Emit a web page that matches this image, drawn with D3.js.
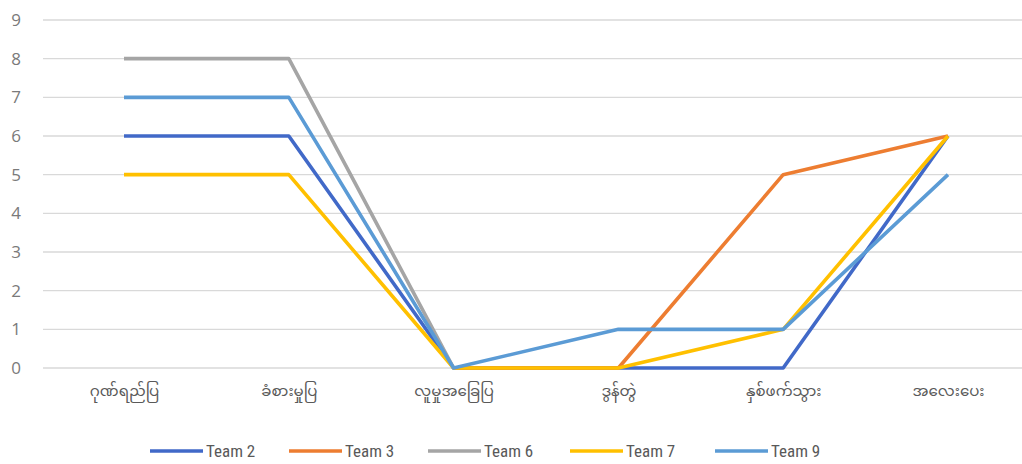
<!DOCTYPE html>
<html>
<head>
<meta charset="utf-8">
<script src="https://cdn.jsdelivr.net/npm/d3@7"></script>
<style>
  html, body { margin: 0; padding: 0; background: #fff; }
  svg { display: block; }
</style>
</head>
<body>
<svg id="chart" width="1022" height="464"></svg>
<script>
// Categories along the x axis
const categories = ["ဂုဏ်ရည်ပြ", "ခံစားမှုပြ", "လူမှုအခြေပြ", "ဒွန်တွဲ", "နှစ်ဖက်သွား", "အလေးပေး"];

// Scores per team (null = no value)
const team2 = [6, 6, 0, 0, 0, 6];
const team3 = [null, null, 0, 0, 5, 6];
const team6 = [8, 8, 0, null, null, null];
const team7 = [5, 5, 0, 0, 1, 6];
const team9 = [7, 7, 0, 1, 1, 5];

const seriesNames = ["Team 2", "Team 3", "Team 6", "Team 7", "Team 9"];
const seriesColors = ["#4169c8", "#ed7d31", "#a5a5a5", "#ffc000", "#5b9bd5"];
const yTicks = [0, 1, 2, 3, 4, 5, 6, 7, 8, 9];

const series = [team2, team3, team6, team7, team9].map((values, i) => ({
  name: seriesNames[i], color: seriesColors[i], values
}));

const svg = d3.select("#chart");

const x = d3.scalePoint().domain(categories).range([124, 948]);
const y = d3.scaleLinear().domain([0, 9]).range([368, 20]);

// Horizontal gridlines
svg.append("g")
  .selectAll("line")
  .data(yTicks)
  .join("line")
  .attr("x1", 43).attr("x2", 1022)
  .attr("y1", d => y(d)).attr("y2", d => y(d))
  .attr("stroke", "#d9d9d9")
  .attr("stroke-width", 1.4);

// Y axis labels
const yAxis = d3.axisLeft(y).tickValues(yTicks).tickSize(0).tickPadding(0);
const yg = svg.append("g").attr("transform", "translate(21,0)").call(yAxis);
yg.select(".domain").remove();
yg.selectAll("text")
  .attr("font-family", "'Open Sans', 'DejaVu Sans', sans-serif")
  .attr("font-size", 17)
  .attr("fill", "#7a7a7a");

// X axis category labels
const xAxis = d3.axisBottom(x).tickSize(0).tickPadding(0);
const xg = svg.append("g").attr("transform", "translate(0,385)").call(xAxis);
xg.select(".domain").remove();
xg.selectAll("text")
  .attr("font-family", "'Noto Sans Myanmar', 'Padauk', 'Myanmar Text', 'Noto Sans', sans-serif")
  .attr("font-size", 15)
  .attr("fill", "#595959");

// Series lines
const line = d3.line()
  .defined(d => d.v != null)
  .x(d => x(d.c))
  .y(d => y(d.v));

svg.append("g")
  .selectAll("path")
  .data(series)
  .join("path")
  .attr("d", s => line(s.values.map((v, i) => ({ c: categories[i], v }))))
  .attr("fill", "none")
  .attr("stroke", s => s.color)
  .attr("stroke-width", 3.6)
  .attr("stroke-linejoin", "round");

// Legend
const legendX = [150, 289, 428, 570, 715];
const legend = svg.append("g")
  .selectAll("g")
  .data(series)
  .join("g")
  .attr("transform", (d, i) => `translate(${legendX[i]},451)`);
legend.append("line")
  .attr("x1", 0).attr("x2", 53)
  .attr("stroke", d => d.color)
  .attr("stroke-width", 3.6);
legend.append("text")
  .attr("x", 56)
  .attr("dy", "0.35em")
  .attr("font-family", "'Liberation Sans Narrow', 'Roboto Condensed', 'Liberation Sans', sans-serif")
  .attr("font-size", 17)
  .attr("fill", "#595959")
  .text(d => d.name);
</script>
</body>
</html>
